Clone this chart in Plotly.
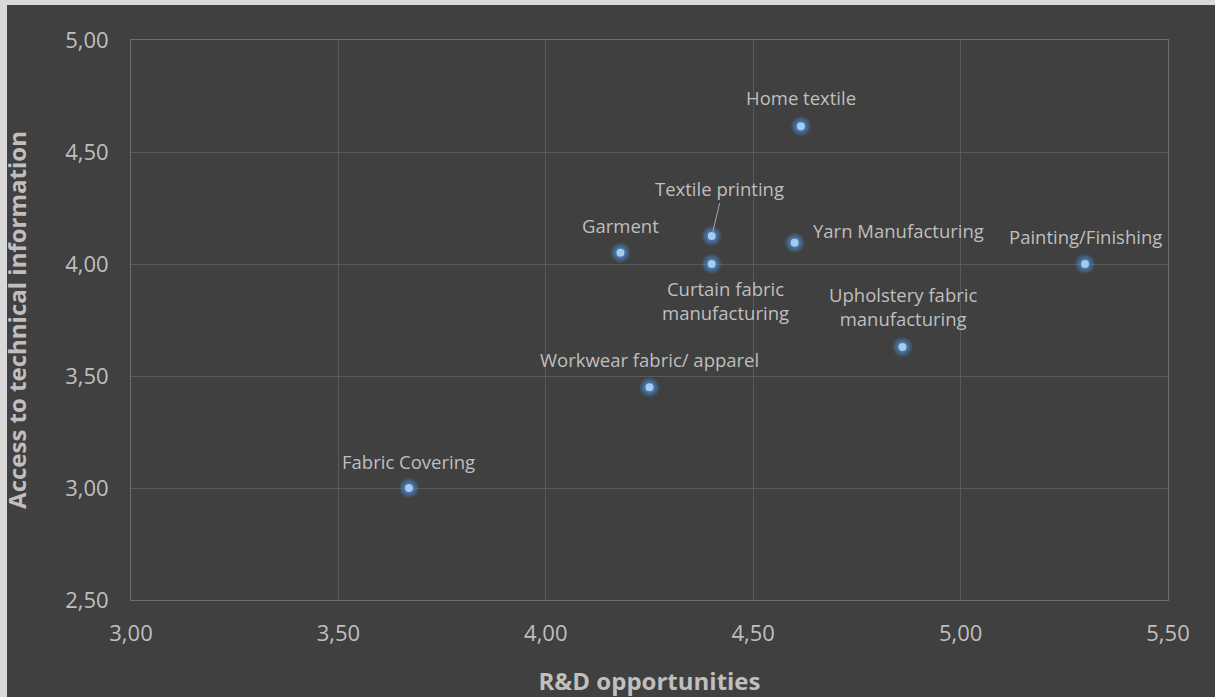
import plotly.graph_objects as go

categories = ["Home textile", "Textile printing", "Garment", "Curtain fabric<br>manufacturing",
              "Yarn Manufacturing", "Painting/Finishing", "Upholstery fabric<br>manufacturing",
              "Workwear fabric/ apparel", "Fabric Covering"]
rd_opportunities = [4.615, 4.40, 4.18, 4.40, 4.60, 5.30, 4.86, 4.25, 3.67]
tech_access = [4.615, 4.125, 4.05, 4.00, 4.095, 4.00, 3.63, 3.45, 3.00]
x_ticks = [3.0, 3.5, 4.0, 4.5, 5.0, 5.5]
x_tick_labels = ["3,00", "3,50", "4,00", "4,50", "5,00", "5,50"]
y_ticks = [2.5, 3.0, 3.5, 4.0, 4.5, 5.0]
y_tick_labels = ["2,50", "3,00", "3,50", "4,00", "4,50", "5,00"]

# label placement: (xshift, yshift, xanchor)
label_pos = {
    "Home textile": (0, 29, "center"),
    "Garment": (0, 27, "center"),
    "Curtain fabric<br>manufacturing": (14, -36, "center"),
    "Yarn Manufacturing": (16, 12, "left"),
    "Painting/Finishing": (0, 28, "center"),
    "Upholstery fabric<br>manufacturing": (0, 40, "center"),
    "Workwear fabric/ apparel": (0, 28, "center"),
    "Fabric Covering": (0, 27, "center"),
}

BG = "#404040"
TXT = "#bfbfbf"
GRID = "#5a5a5a"
FONT = "Open Sans"
LABEL_SIZE = 18.5

fig = go.Figure()
# soft glow layers
for size, alpha in [(20, 0.22), (16, 0.32), (12, 0.50)]:
    fig.add_trace(go.Scatter(x=rd_opportunities, y=tech_access, mode="markers",
                             marker=dict(size=size, color=f"rgba(75,135,200,{alpha})", line=dict(width=0)),
                             hoverinfo="skip", showlegend=False))
fig.add_trace(go.Scatter(x=rd_opportunities, y=tech_access, mode="markers",
                         marker=dict(size=8, color="#a4cbf0", line=dict(width=0)),
                         text=categories, showlegend=False))

for name, xv, yv in zip(categories, rd_opportunities, tech_access):
    if name == "Textile printing":
        fig.add_annotation(x=xv, y=yv, text=name, showarrow=True, arrowhead=0,
                           arrowcolor="#a6a6a6", arrowwidth=1, ax=8, ay=-33,
                           standoff=3, font=dict(family=FONT, size=LABEL_SIZE, color=TXT),
                           xanchor="center", yanchor="bottom")
    else:
        xs, ys, xa = label_pos[name]
        fig.add_annotation(x=xv, y=yv, text=name, showarrow=False,
                           xshift=xs, yshift=ys, xanchor=xa, yanchor="middle",
                           font=dict(family=FONT, size=LABEL_SIZE, color=TXT))

# light frame at top/left edges and dark chart area
fig.add_shape(type="rect", xref="paper", yref="paper",
              x0=(7 - 131) / 1037, x1=(1215 - 131) / 1037 + 0.01,
              y0=(600 - 697) / 560 - 0.01, y1=(600 - 5) / 560,
              fillcolor=BG, line=dict(width=0), layer="below")

fig.update_layout(
    width=1215, height=697,
    margin=dict(l=131, r=47, t=40, b=97),
    paper_bgcolor="#d9d9d9", plot_bgcolor=BG,
    font=dict(family=FONT, color=TXT),
    xaxis=dict(range=[3.0, 5.5], tickvals=x_ticks, ticktext=x_tick_labels, automargin=False,
               showgrid=True, gridcolor=GRID, gridwidth=1,
               showline=True, linecolor="#6e6e6e", linewidth=1, mirror=True,
               zeroline=False, ticks="", tickfont=dict(size=22, color=TXT), ticklabelstandoff=14,
               title=dict(text="<b>R&D opportunities</b>", font=dict(size=24, color=TXT), standoff=26)),
    yaxis=dict(range=[2.5, 5.0], tickvals=y_ticks, ticktext=y_tick_labels, automargin=False,
               showgrid=True, gridcolor=GRID, gridwidth=1,
               showline=True, linecolor="#6e6e6e", linewidth=1, mirror=True,
               zeroline=False, ticks="", tickfont=dict(size=22, color=TXT), ticklabelstandoff=17,
               title=dict(text="<b>Access to technical information</b>", font=dict(size=24, color=TXT), standoff=32)),
)

fig.write_html("out.html")
